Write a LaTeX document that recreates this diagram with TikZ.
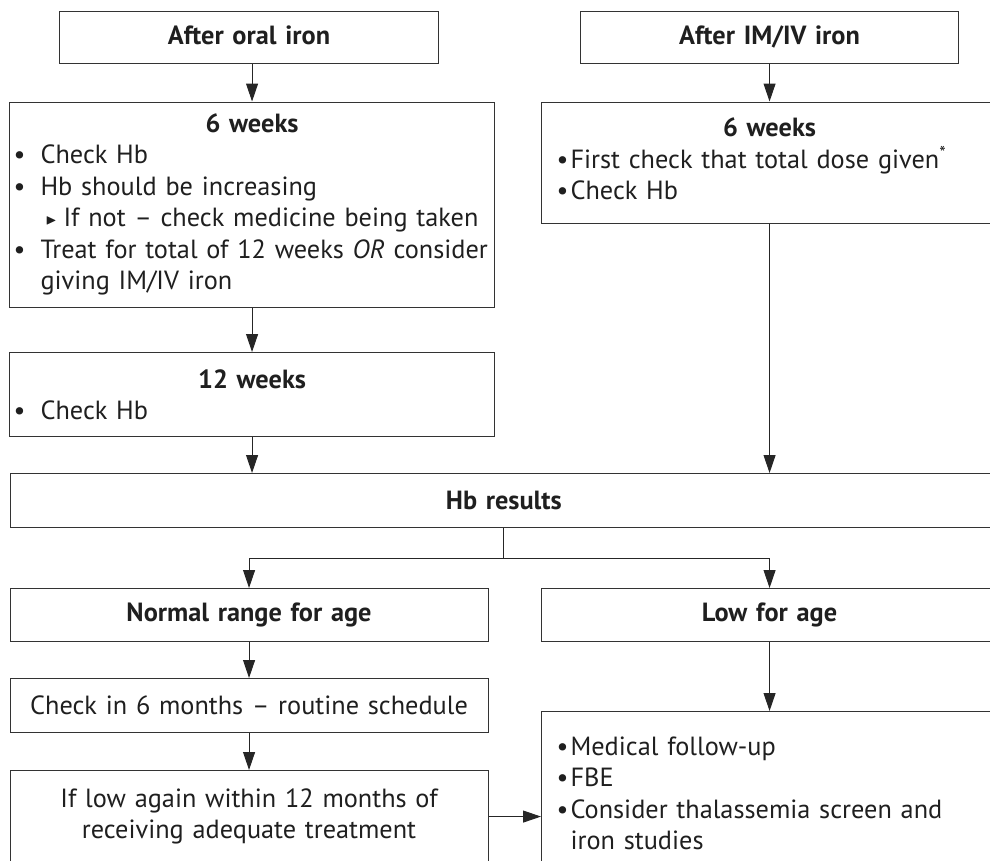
\documentclass[tikz,border=0pt]{standalone}
\usepackage{fontspec}
\setmainfont{PT Sans}
\usepackage{amssymb}
\usepackage{tikz}
\usetikzlibrary{arrows.meta, positioning}

% bullet line: offset of bullet, offset of text, text
\newcommand{\itm}[3]{\par\noindent\hangindent=#2\hangafter=1\hspace*{#1}\makebox[\dimexpr#2-#1\relax][l]{\textbullet}#3}
% sub-point with a small triangle
\newcommand{\subitm}[1]{\par\noindent\hspace*{36pt}\makebox[18pt][l]{\raisebox{2pt}{\scalebox{0.55}{$\blacktriangleright$}}}#1}

\begin{document}
\begin{tikzpicture}[x=1pt, y=-1pt,
    box/.style={draw=black!80, line width=1.1pt, rectangle, anchor=north west, inner xsep=0pt, inner ysep=0pt,
      font=\fontsize{26.3}{31.5}\selectfont, text=black!88},
    arr/.style={draw=black!85, line width=1pt, -{Triangle[length=18pt, width=12pt]}},
    ln/.style={draw=black!85, line width=1pt}]

    % Fix the frame of the picture
    \useasboundingbox (0,0) rectangle (990,860);
    \clip (0,0) rectangle (990,860);

    % Start boxes
    \node[box, minimum width=379pt, minimum height=52pt, text width=379pt, align=center] (oral) at (59,11) {\raisebox{4pt}{\textbf{After oral iron}}};
    \node[box, minimum width=378pt, minimum height=52pt, text width=378pt, align=center] (im) at (580,11) {\raisebox{4pt}{\textbf{After IM/IV iron}}};

    % 6 weeks checks
    \node[box, minimum width=485pt, minimum height=205pt, text width=485pt] (sixl) at (9,101.5) {%
      \centering\textbf{6 weeks}\par\raggedright
      \itm{4pt}{31pt}{Check Hb}
      \itm{4pt}{31pt}{Hb should be increasing}
      \subitm{If not -- check medicine being taken}
      \itm{4pt}{31pt}{Treat for total of 12 weeks \textit{OR} consider giving IM/IV iron}\par};
    \node[box, minimum width=456pt, minimum height=121.5pt, text width=456pt] (sixr) at (541,101.5) {%
      \centering\textbf{6 weeks}\par\raggedright
      \itm{15pt}{29pt}{First check that total dose given\textsuperscript{*}}
      \itm{15pt}{29pt}{Check Hb}\par\vspace{8pt}};

    % 12 weeks
    \node[box, minimum width=485pt, minimum height=84pt, text width=485pt] (twelve) at (9,352) {%
      \centering\textbf{12 weeks}\par\raggedright
      \itm{4pt}{31pt}{Check Hb}\par};

    % Results
    \node[box, minimum width=987.5pt, minimum height=54pt, text width=987.5pt, align=center] (hb) at (9.5,473) {\textbf{Hb results}};

    \node[box, minimum width=478pt, minimum height=53pt, text width=478pt, align=center] (normal) at (9.5,588) {\textbf{Normal range for age}};
    \node[box, minimum width=456pt, minimum height=53pt, text width=456pt, align=center] (low) at (541,588) {\textbf{Low for age}};

    \node[box, minimum width=478pt, minimum height=54pt, text width=478pt, align=center] (check) at (9.5,678) {Check in 6 months -- routine schedule};
    \node[box, minimum width=478pt, minimum height=92pt, text width=478pt, align=center] (again) at (9.5,770) {If low again within 12 months of\\receiving adequate treatment};
    \node[box, minimum width=456pt, minimum height=151pt, text width=456pt] (follow) at (541,711) {%
      \raggedright
      \itm{15pt}{29pt}{Medical follow-up}
      \itm{15pt}{29pt}{FBE}
      \itm{15pt}{29pt}{Consider thalassemia screen and\newline iron studies}\par};

    % Connectors
    \draw[arr] (oral.south -| sixl.north) -- (sixl.north);
    \draw[arr] (im.south) -- (sixr.north);
    \draw[arr] (sixl.south) -- (twelve.north);
    \draw[arr] (twelve.south) -- (twelve.south |- hb.north);
    \draw[arr] (sixr.south) -- (sixr.south |- hb.north);

    \draw[ln] (hb.south) -- ++(0,30) coordinate (split);
    \draw[arr] (split) -| (normal.north);
    \draw[arr] (split) -| (low.north);

    \draw[arr] (normal.south) -- (check.north);
    \draw[arr] (check.south) -- (again.north);
    \draw[arr] (low.south) -- (follow.north);
    \draw[arr] (again.east) -- (again.east -| follow.west);

\end{tikzpicture}
\end{document}
